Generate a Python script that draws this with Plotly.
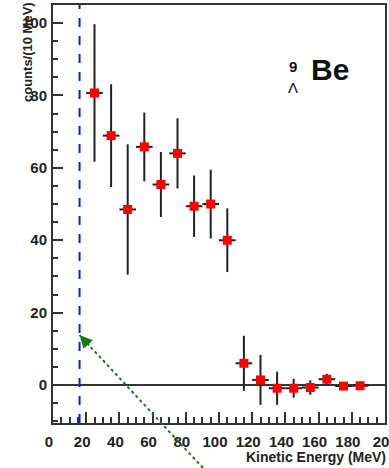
import plotly.graph_objects as go

# ---- data ----
energy = [25, 35, 45, 55, 65, 75, 85, 95, 105, 115, 125, 135, 145, 155, 165, 175, 185]
counts = [80.7, 68.9, 48.5, 65.8, 55.4, 64.0, 49.4, 50.0, 40.0, 6.0, 1.4, -0.9, -0.9, -0.7, 1.6, -0.3, -0.2]
count_err = [19.0, 14.2, 18.0, 9.5, 9.0, 9.7, 8.5, 9.5, 8.8, 7.6, 6.9, 4.6, 2.6, 2.0, 1.5, 0.6, 0.5]
bin_half = [5] * len(energy)
threshold = 16
arrow_tip_y = 13.8

x_range = [0, 200]
y_range = [-10.5, 105]
x_ticks = [0, 20, 40, 60, 80, 100, 120, 140, 160, 180, 200]
x_ticklabels = ["0", "20", "40", "60", "80", "100", "120", "140", "160", "180", "20"]
y_ticks = [0, 20, 40, 60, 80, 100]

W, H = 389, 468
ml, mr, mt, mb = 53, 4, 5, 45
pw, ph = W - ml - mr, H - mt - mb


def px(xp):
    return (xp - ml) / pw


def py(yp):
    return (H - mb - yp) / ph


FONT = "Liberation Sans, Arial, sans-serif"
bold = dict(family=FONT, size=15, color="#222", weight="bold")

fig = go.Figure()
fig.add_trace(go.Scatter(
    x=energy, y=counts, mode="markers",
    marker=dict(symbol="square", size=9, color="#ff0000"),
    error_y=dict(type="data", array=count_err, thickness=2, width=0, color="#222"),
    error_x=dict(type="data", array=bin_half, thickness=2, width=0, color="#222"),
    showlegend=False, hoverinfo="skip",
))

# blue dashed threshold line
fig.add_shape(type="line", xref="x", yref="paper", x0=threshold, x1=threshold, y0=0, y1=1,
              line=dict(color="#0022ee", width=2, dash="dash"))

# green dotted arrow (tail below plot)
tip_px = (threshold - x_range[0]) / (x_range[1] - x_range[0])
tip_py = (arrow_tip_y - y_range[0]) / (y_range[1] - y_range[0])
fig.add_shape(type="line", xref="paper", yref="paper", x0=px(203), y0=py(468), x1=tip_px, y1=tip_py,
              line=dict(color="#1a7a1a", width=2, dash="dot"))
fig.add_annotation(x=threshold, y=arrow_tip_y, xref="x", yref="y", ax=11, ay=12, text="",
                   showarrow=True, arrowhead=2, arrowsize=1.6, arrowwidth=1.6, arrowcolor="#1a7a1a")

# label 9 Λ Be
fig.add_annotation(xref="paper", yref="paper", x=px(330), y=py(70), xanchor="center", yanchor="middle",
                   text="<b>Be</b>", showarrow=False, font=dict(family=FONT, size=30, color="#111"))
fig.add_annotation(xref="paper", yref="paper", x=px(293), y=py(66), xanchor="center", yanchor="middle",
                   text="<b>9</b>", showarrow=False, font=dict(family=FONT, size=15, color="#111"))
fig.add_annotation(xref="paper", yref="paper", x=px(293), y=py(88), xanchor="center", yanchor="middle",
                   text="Λ", showarrow=False, font=dict(family=FONT, size=15, color="#111"))

# axis titles
fig.add_annotation(xref="paper", yref="paper", x=px(27), y=py(0), xanchor="center", yanchor="top",
                   text="<b>counts/(10 MeV)</b>", textangle=-90, showarrow=False,
                   font=dict(family=FONT, size=13, color="#222"))
fig.add_annotation(xref="paper", yref="paper", x=px(388), xanchor="right", y=py(457), yanchor="middle",
                   text="<b>Kinetic Energy (MeV)</b>", showarrow=False,
                   font=dict(family=FONT, size=14, color="#222"))

axis_common = dict(showline=True, linecolor="#333", linewidth=2, mirror=True, showgrid=False,
                   ticks="inside", tickcolor="#333", tickwidth=1.5, tickfont=bold, automargin=False,
                   ticklabeloverflow="allow")
fig.update_xaxes(range=x_range, tickvals=x_ticks, ticktext=x_ticklabels, ticklen=11,
                 ticklabelshift=-4, ticklabelstandoff=4,
                 minor=dict(dtick=5, tick0=0, ticks="inside", ticklen=6, tickcolor="#333", tickwidth=1.5),
                 zeroline=False, **axis_common)
fig.update_yaxes(range=y_range, tickvals=y_ticks, ticklen=10, ticklabelstandoff=1,
                 minor=dict(dtick=5, tick0=0, ticks="inside", ticklen=5, tickcolor="#333", tickwidth=1.5),
                 zeroline=True, zerolinecolor="#333", zerolinewidth=1.5, **axis_common)

fig.update_layout(width=W, height=H, margin=dict(l=ml, r=mr, t=mt, b=mb, autoexpand=False),
                  paper_bgcolor="white", plot_bgcolor="white")
fig.write_html("out.html", config=dict(displayModeBar=False),
               post_script="document.body.style.margin='0';document.body.style.overflow='hidden';")
